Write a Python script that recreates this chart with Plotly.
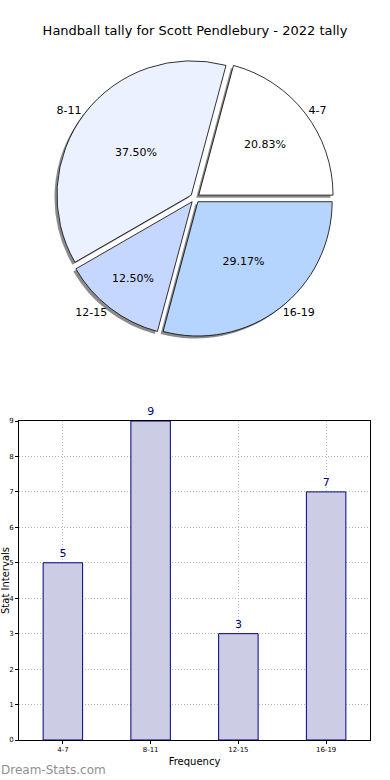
import plotly.graph_objects as go

title = "Handball tally for Scott Pendlebury - 2022 tally"
categories = ["4-7", "8-11", "12-15", "16-19"]
counts = [5, 9, 3, 7]
pie_colors = ["#ffffff", "#ebf1ff", "#c6d7ff", "#b5d5ff"]
bar_fill = "#ccccE5"
bar_edge = "#000080"
font_family = "DejaVu Sans"

W, H = 390, 780
# pie geometry (pixels)
cx, cy, R = 195, 198, 139
pull = [0.035] * len(categories)

def pie_domain(dx=0, dy=0):
    return dict(x=[(cx - R + dx) / W, (cx + R + dx) / W],
                y=[1 - (cy + R + dy) / H, 1 - (cy - R + dy) / H])

common = dict(labels=categories, values=counts, sort=False,
              direction="counterclockwise", rotation=15, pull=pull)

fig = go.Figure()

# shadow
fig.add_trace(go.Pie(
    **common, domain=pie_domain(-2.5, 2.5),
    marker=dict(colors=["rgba(120,120,120,0.85)"] * 4, line=dict(width=0)),
    textinfo="none", hoverinfo="skip", showlegend=False))

# main pie with percentages
fig.add_trace(go.Pie(
    **common, domain=pie_domain(),
    marker=dict(colors=pie_colors, line=dict(color="#000000", width=0.8)),
    texttemplate="%{percent:.2%}", textposition="inside",
    insidetextorientation="horizontal",
    textfont=dict(family=font_family, size=11, color="#000000"),
    showlegend=False))

# labels outside
fig.add_trace(go.Pie(
    **common, domain=pie_domain(),
    marker=dict(colors=["rgba(0,0,0,0)"] * 4, line=dict(width=0)),
    textinfo="label", textposition="outside",
    outsidetextfont=dict(family=font_family, size=11, color="#000000"),
    hoverinfo="skip", showlegend=False))

# bar chart
fig.add_trace(go.Bar(
    x=categories, y=counts, width=0.45,
    marker=dict(color=bar_fill, line=dict(color=bar_edge, width=1)),
    text=[str(v) for v in counts], textposition="outside",
    textfont=dict(family=font_family, size=11, color=bar_edge),
    cliponaxis=False, showlegend=False, xaxis="x", yaxis="y"))

grid = dict(showgrid=True, gridcolor="#b8b8b8", griddash="1px,2px", gridwidth=1)
fig.update_layout(
    width=W, height=H,
    margin=dict(l=0, r=0, t=0, b=0, autoexpand=False),
    paper_bgcolor="white", plot_bgcolor="white",
    font=dict(family=font_family, color="#000000"),
    title=dict(text=title, x=0.5, xanchor="center", y=1 - 30 / H, yanchor="middle",
               font=dict(family=font_family, size=13, color="#000000")),
    xaxis=dict(domain=[19 / W, 370 / W], anchor="y", range=[-0.5, 3.5], automargin=False,
               showline=True, linecolor="#000000", mirror=True, linewidth=1,
               ticks="outside", ticklen=3, tickcolor="#000000",
               tickfont=dict(size=7), zeroline=False,
               title=dict(text="Frequency", font=dict(size=10), standoff=4), **grid),
    yaxis=dict(domain=[1 - 740 / H, 1 - 421 / H], anchor="x", range=[0, 9], automargin=False,
               dtick=1, showline=True, linecolor="#000000", mirror=True, linewidth=1,
               ticks="outside", ticklen=3, tickcolor="#000000",
               tickfont=dict(size=7), zeroline=False,
               title=dict(text="Stat Intervals", font=dict(size=10), standoff=2), **grid),
    annotations=[dict(text="Dream-Stats.com", xref="paper", yref="paper",
                      x=-0.003, y=1 - 770 / H, xanchor="left", yanchor="middle",
                      showarrow=False, font=dict(size=12, color="#8f8f8f"))],
)

fig.write_html("out.html", config={"displayModeBar": False},
               post_script="document.body.style.margin='0px';")
